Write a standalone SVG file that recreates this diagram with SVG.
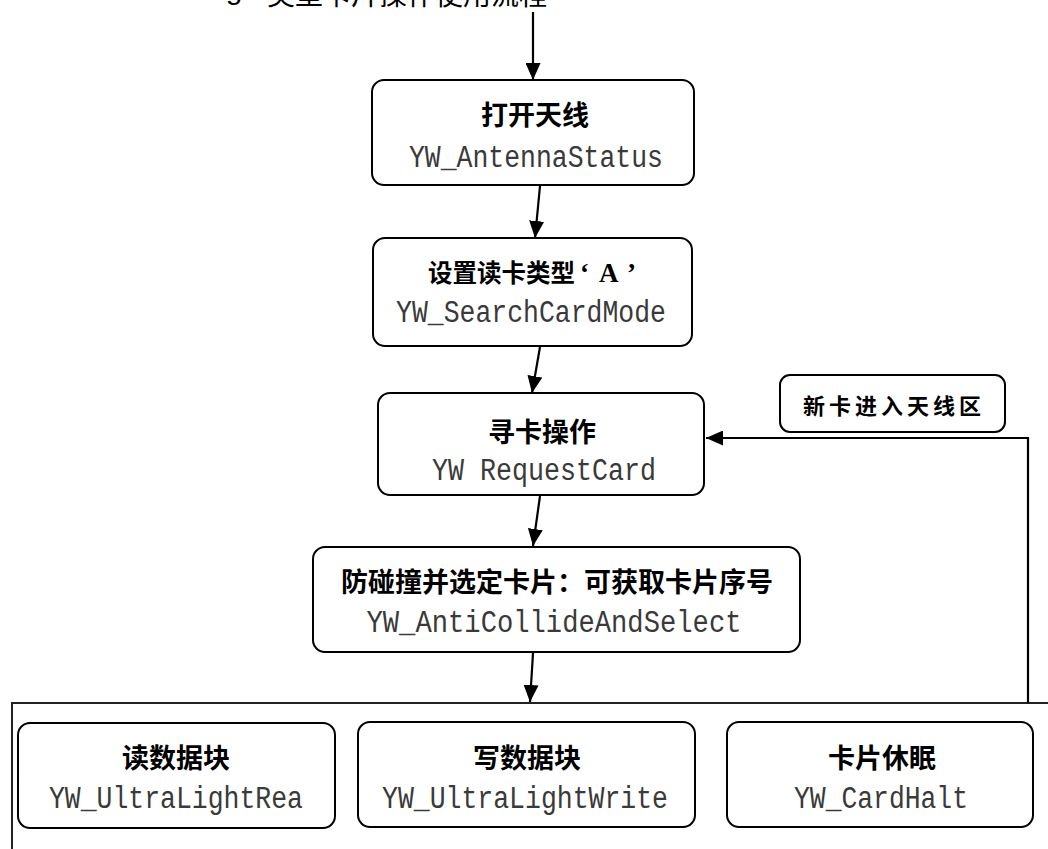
<svg xmlns="http://www.w3.org/2000/svg" width="1048" height="849" viewBox="0 0 1048 849">
<style>
.box{fill:#fff;stroke:#000;stroke-width:2}
.cn{font-family:"Noto Sans CJK SC","Liberation Sans",sans-serif;font-weight:700;font-size:27px;fill:#000;text-anchor:middle}
.mono{font-family:"Liberation Mono",monospace;font-size:31px;fill:#3a3a3a;text-anchor:middle}
.conn{fill:none;stroke:#000;stroke-width:2.2}
.frame{fill:none;stroke:#222;stroke-width:2}
</style>
<defs>
<marker id="ah" viewBox="0 0 17 15" refX="17" refY="7.5" markerWidth="17" markerHeight="15" markerUnits="userSpaceOnUse" orient="auto">
<path d="M0,0 L17,7.5 L0,15 Z" fill="#000"/>
</marker>
</defs>
<rect width="1048" height="849" fill="#fff"/>
<g id="title">
<text x="139" y="-1" font-family="Liberation Sans,sans-serif" font-size="30" fill="#000">UltraLight<tspan x="267" y="5" font-size="28" font-family="Noto Sans CJK SC,sans-serif">类型卡片操作使用流程</tspan></text>
</g>
<g id="frame">
<path class="frame" d="M12,849 V703 H1048"/>
</g>
<g id="connectors">
<line class="conn" x1="533" y1="12" x2="533" y2="80" marker-end="url(#ah)"/>
<line class="conn" x1="540" y1="186" x2="535" y2="238" marker-end="url(#ah)"/>
<line class="conn" x1="540" y1="347" x2="532" y2="393" marker-end="url(#ah)"/>
<line class="conn" x1="540" y1="496" x2="533" y2="546" marker-end="url(#ah)"/>
<line class="conn" x1="533" y1="653" x2="530" y2="702" marker-end="url(#ah)"/>
<path class="conn" d="M1028,703 V438 H706" stroke-width="2.5" marker-end="url(#ah)"/>
</g>
<g id="n1">
<rect class="box" x="372" y="80" width="322" height="105" rx="12"/>
<text class="cn" x="535" y="125">打开天线</text>
<text class="mono" x="536" y="167" textLength="254" lengthAdjust="spacingAndGlyphs">YW_AntennaStatus</text>
</g>
<g id="n2">
<rect class="box" x="373" y="238" width="319" height="108" rx="12"/>
<text class="cn" x="428" y="282" style="font-size:24.5px;text-anchor:start">设置读卡类型</text>
<text x="580" y="282" font-family="Liberation Serif,serif" font-weight="700" font-size="27" fill="#000">‘<tspan x="599">A</tspan><tspan x="627">’</tspan></text>
<text class="mono" x="531" y="322" textLength="270" lengthAdjust="spacingAndGlyphs">YW_SearchCardMode</text>
</g>
<g id="n3">
<rect class="box" x="378" y="393" width="326" height="102" rx="12"/>
<text class="cn" x="542" y="442">寻卡操作</text>
<text class="mono" x="544" y="480" textLength="224" lengthAdjust="spacingAndGlyphs">YW RequestCard</text>
</g>
<g id="n4">
<rect class="box" x="313" y="547" width="487" height="105" rx="12"/>
<text class="cn" x="557" y="592">防碰撞并选定卡片：可获取卡片序号</text>
<text class="mono" x="554" y="632" textLength="375" lengthAdjust="spacingAndGlyphs">YW_AntiCollideAndSelect</text>
</g>
<g id="label">
<rect class="box" x="780" y="375" width="225" height="57" rx="10"/>
<text class="cn" x="894" y="414" style="font-size:22px;letter-spacing:4px">新卡进入天线区</text>
</g>
<g id="n5">
<rect class="box" x="18" y="723" width="317" height="105" rx="12"/>
<text class="cn" x="176" y="768">读数据块</text>
<text class="mono" x="176" y="808" textLength="254" lengthAdjust="spacingAndGlyphs">YW_UltraLightRea</text>
</g>
<g id="n6">
<rect class="box" x="358" y="722" width="337" height="105" rx="12"/>
<text class="cn" x="527" y="768">写数据块</text>
<text class="mono" x="525" y="808" textLength="286" lengthAdjust="spacingAndGlyphs">YW_UltraLightWrite</text>
</g>
<g id="n7">
<rect class="box" x="727" y="722" width="306" height="105" rx="12"/>
<text class="cn" x="882" y="768">卡片休眠</text>
<text class="mono" x="881" y="808" textLength="174" lengthAdjust="spacingAndGlyphs">YW_CardHalt</text>
</g>
</svg>
